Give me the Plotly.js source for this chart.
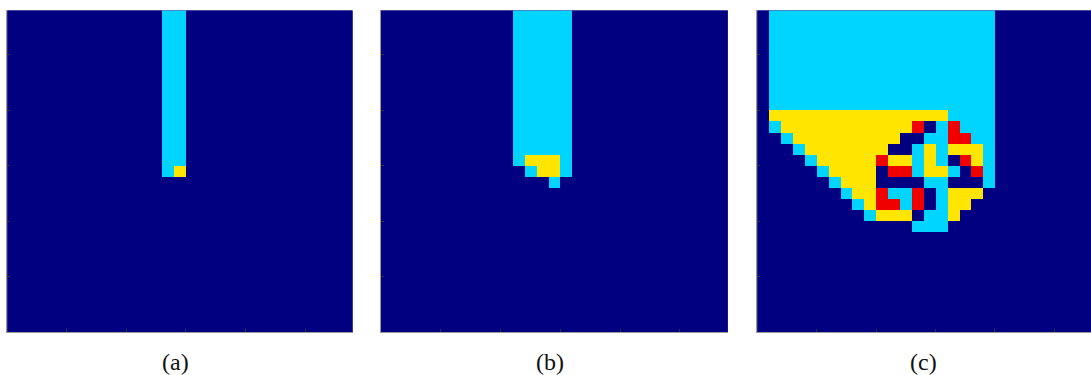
<!DOCTYPE html>
<html>
<head>
<meta charset="utf-8">
<script src="https://cdn.plot.ly/plotly-3.0.1.min.js"></script>
<style>
  html, body { margin: 0; padding: 0; background: #ffffff; }
  #plot { width: 1091px; height: 375px; }
</style>
</head>
<body>
<div id="plot"></div>
<script>
// Cell states: 0 = empty, 1 = cyan, 2 = yellow, 3 = red.
// Each grid is 29 x 29, rows written from the top row (y = 28) down to y = 0.
const stateNames = ['0', '1', '2', '3'];
const stateColors = ['#000080', '#00D5FF', '#FFE500', '#F00000'];
const panelLabels = ['(a)', '(b)', '(c)'];
const tickValues = [5, 10, 15, 20, 25];

const gridA = [
  '00000000000001100000000000000',
  '00000000000001100000000000000',
  '00000000000001100000000000000',
  '00000000000001100000000000000',
  '00000000000001100000000000000',
  '00000000000001100000000000000',
  '00000000000001100000000000000',
  '00000000000001100000000000000',
  '00000000000001100000000000000',
  '00000000000001100000000000000',
  '00000000000001100000000000000',
  '00000000000001100000000000000',
  '00000000000001100000000000000',
  '00000000000001100000000000000',
  '00000000000001200000000000000',
  '00000000000000000000000000000',
  '00000000000000000000000000000',
  '00000000000000000000000000000',
  '00000000000000000000000000000',
  '00000000000000000000000000000',
  '00000000000000000000000000000',
  '00000000000000000000000000000',
  '00000000000000000000000000000',
  '00000000000000000000000000000',
  '00000000000000000000000000000',
  '00000000000000000000000000000',
  '00000000000000000000000000000',
  '00000000000000000000000000000',
  '00000000000000000000000000000'
];

const gridB = [
  '00000000000111110000000000000',
  '00000000000111110000000000000',
  '00000000000111110000000000000',
  '00000000000111110000000000000',
  '00000000000111110000000000000',
  '00000000000111110000000000000',
  '00000000000111110000000000000',
  '00000000000111110000000000000',
  '00000000000111110000000000000',
  '00000000000111110000000000000',
  '00000000000111110000000000000',
  '00000000000111110000000000000',
  '00000000000111110000000000000',
  '00000000000122210000000000000',
  '00000000000012210000000000000',
  '00000000000000100000000000000',
  '00000000000000000000000000000',
  '00000000000000000000000000000',
  '00000000000000000000000000000',
  '00000000000000000000000000000',
  '00000000000000000000000000000',
  '00000000000000000000000000000',
  '00000000000000000000000000000',
  '00000000000000000000000000000',
  '00000000000000000000000000000',
  '00000000000000000000000000000',
  '00000000000000000000000000000',
  '00000000000000000000000000000',
  '00000000000000000000000000000'
];

const gridC = [
  '01111111111111111111000000000',
  '01111111111111111111000000000',
  '01111111111111111111000000000',
  '01111111111111111111000000000',
  '01111111111111111111000000000',
  '01111111111111111111000000000',
  '01111111111111111111000000000',
  '01111111111111111111000000000',
  '01111111111111111111000000000',
  '02222222222222221111000000000',
  '01222222222223013111000000000',
  '00122222222200113311000000000',
  '00012222222001212221000000000',
  '00001222223221210321000000000',
  '00000122220331221031000000000',
  '00000012220000110001000000000',
  '00000001223113012220000000000',
  '00000000123313012200000000000',
  '00000000012220112000000000000',
  '00000000000001110000000000000',
  '00000000000000000000000000000',
  '00000000000000000000000000000',
  '00000000000000000000000000000',
  '00000000000000000000000000000',
  '00000000000000000000000000000',
  '00000000000000000000000000000',
  '00000000000000000000000000000',
  '00000000000000000000000000000',
  '00000000000000000000000000000'
];

const grids = [gridA, gridB, gridC];

// Turn the row strings into a z matrix whose first row is y = 0.
function toMatrix(rows) {
  return rows.slice().reverse().map(r => r.split('').map(ch => stateNames.indexOf(ch)));
}

const nCells = 29;
const edges = Array.from({length: nCells + 1}, (_, i) => i);
const colorscale = stateColors.map((c, i) => [i / (stateColors.length - 1), c]);

const W = 1091, H = 375;
const yDom = [1 - 332.3 / H, 1 - 10.4 / H];
const panels = [
  {x0: 7.3, x1: 352.7, xmax: 29},
  {x0: 381.0, x1: 727.7, xmax: 29},
  {x0: 757.3, x1: 1091, xmax: (1091 - 757.3) / 11.88}
];

const data = grids.map((g, i) => ({
  type: 'heatmap',
  x: edges,
  y: edges,
  z: toMatrix(g),
  zmin: 0,
  zmax: 3,
  colorscale: colorscale,
  showscale: false,
  hoverinfo: 'skip',
  xaxis: i === 0 ? 'x' : 'x' + (i + 1),
  yaxis: i === 0 ? 'y' : 'y' + (i + 1)
}));

const layout = {
  width: W,
  height: H,
  margin: {l: 0, r: 0, t: 0, b: 0},
  paper_bgcolor: '#ffffff',
  plot_bgcolor: '#000080',
  showlegend: false,
  annotations: []
};

const labelX = [175, 550, 923];

panels.forEach((p, i) => {
  const sx = i === 0 ? '' : String(i + 1);
  const axCommon = {
    showgrid: false,
    zeroline: false,
    showticklabels: false,
    ticks: 'inside',
    ticklen: 3,
    tickwidth: 1,
    tickcolor: '#333333',
    tickvals: tickValues,
    showline: true,
    linecolor: '#999999',
    linewidth: 1,
    mirror: false,
    fixedrange: true
  };
  layout['xaxis' + sx] = Object.assign({}, axCommon, {
    domain: [p.x0 / W, p.x1 / W],
    range: [0, p.xmax],
    anchor: 'y' + sx
  });
  layout['yaxis' + sx] = Object.assign({}, axCommon, {
    domain: yDom,
    range: [0, nCells],
    anchor: 'x' + sx
  });
  layout.annotations.push({
    text: panelLabels[i],
    xref: 'paper',
    yref: 'paper',
    x: labelX[i] / W,
    y: 1 - 362 / H,
    xanchor: 'center',
    yanchor: 'middle',
    showarrow: false,
    font: {family: 'Liberation Serif, DejaVu Serif, serif', size: 24, color: '#111111'}
  });
});

Plotly.newPlot('plot', data, layout, {staticPlot: true, displayModeBar: false});
</script>
</body>
</html>
